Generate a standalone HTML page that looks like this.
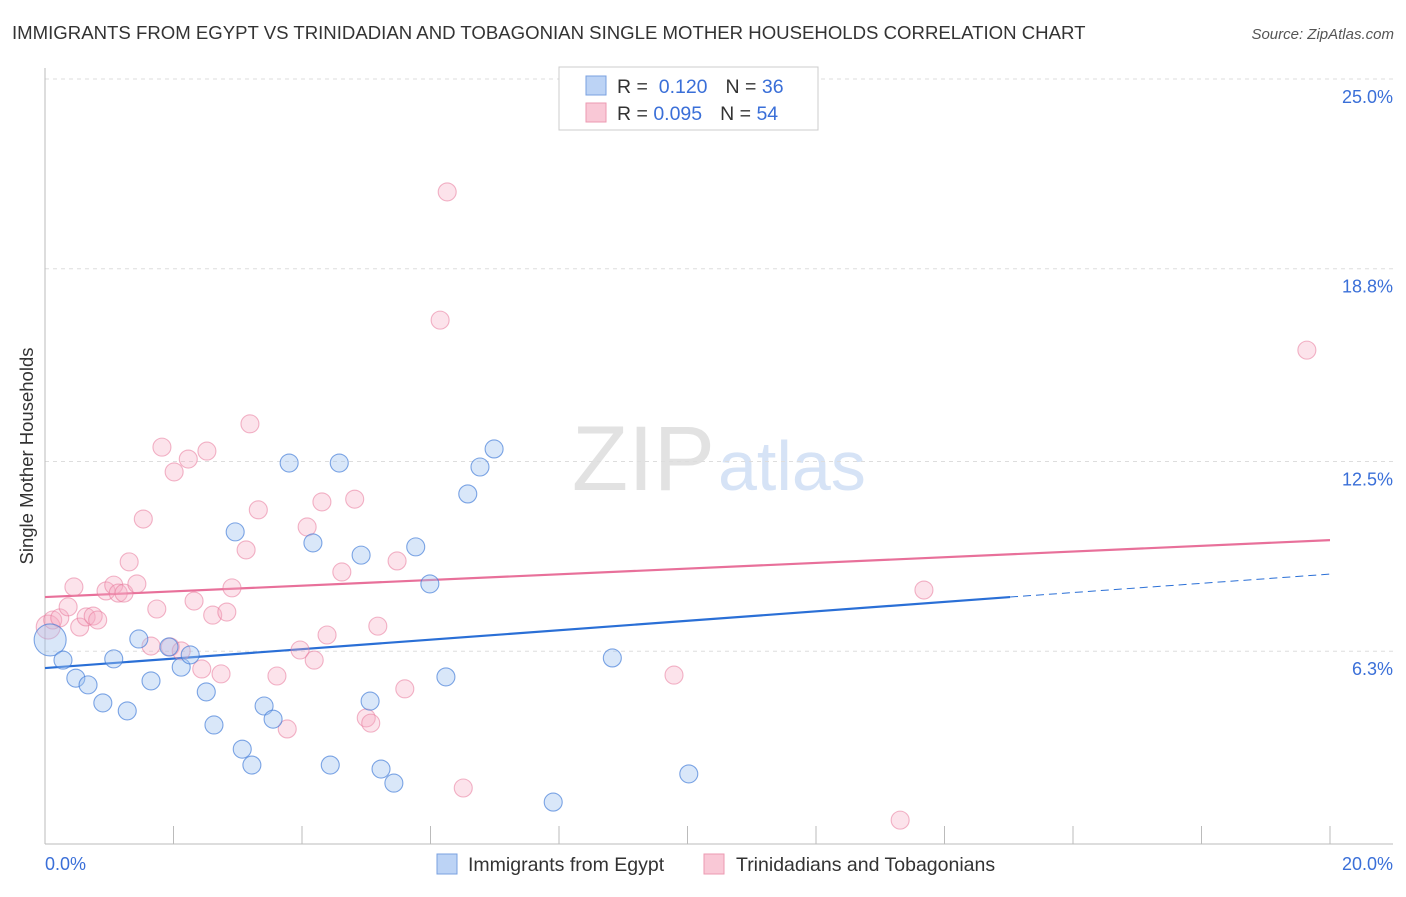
<!DOCTYPE html>
<html><head><meta charset="utf-8"><style>
body{margin:0;background:#fff;font-family:"Liberation Sans",sans-serif;}
svg text{font-family:"Liberation Sans",sans-serif;}
</style></head><body>
<svg id="chart" width="1406" height="892">
<text x="12" y="39" font-size="18.6" fill="#333">IMMIGRANTS FROM EGYPT VS TRINIDADIAN AND TOBAGONIAN SINGLE MOTHER HOUSEHOLDS CORRELATION CHART</text>
<text x="1394" y="39" font-size="15" fill="#555" font-style="italic" text-anchor="end">Source: ZipAtlas.com</text>
<text x="715" y="490" font-size="92" fill="#e2e2e2" text-anchor="end" font-family="Liberation Serif">ZIP</text>
<text x="718" y="490" font-size="70" fill="#d6e3f6">atlas</text>
<text transform="translate(33,456) rotate(-90)" font-size="18.5" fill="#333" text-anchor="middle">Single Mother Households</text>
<g id="grid"></g><g id="axes"></g><g id="lines"></g><g id="pts"></g>
<g>
<rect x="559" y="67" width="259" height="63" fill="#fff" stroke="#ccc"/>
<rect x="586" y="76" width="20" height="19" fill="#bcd3f5" stroke="#7aa0e0"/>
<rect x="586" y="103" width="20" height="19" fill="#f9c8d6" stroke="#ec9ab2"/>
<text x="617" y="93" font-size="19.5" fill="#333">R = <tspan fill="#3a6fd8">&#160;0.120</tspan><tspan fill="#333" dx="18">N = </tspan><tspan fill="#3a6fd8">36</tspan></text>
<text x="617" y="120" font-size="19.5" fill="#333">R = <tspan fill="#3a6fd8">0.095</tspan><tspan fill="#333" dx="18">N = </tspan><tspan fill="#3a6fd8">54</tspan></text>
</g>
<g>
<rect x="437" y="854" width="20" height="20" fill="#bcd3f5" stroke="#7aa0e0"/>
<text x="468" y="871" font-size="19.5" fill="#333">Immigrants from Egypt</text>
<rect x="704" y="854" width="20" height="20" fill="#f9c8d6" stroke="#ec9ab2"/>
<text x="736" y="871" font-size="19.5" fill="#333">Trinidadians and Tobagonians</text>
</g>
</svg>
<script>
const yTicks=[25,18.8,12.5,6.3];
const yTickLabels=["25.0%","18.8%","12.5%","6.3%"];
const xTickCount=10;
const blueX=[0.08,0.28,0.48,0.67,0.90,1.07,1.28,1.46,1.65,1.93,2.12,2.26,2.51,2.63,2.96,3.07,3.22,3.41,3.55,3.80,4.17,4.44,4.58,4.92,5.06,5.23,5.43,5.77,5.99,6.24,6.58,6.77,6.99,7.91,8.83,10.02];
const blueY=[6.67,6.01,5.42,5.20,4.61,6.05,4.35,6.70,5.33,6.44,5.78,6.18,4.97,3.89,10.20,3.10,2.58,4.51,4.08,12.45,9.84,2.58,12.45,9.44,4.67,2.45,1.99,9.71,8.50,5.46,11.44,12.32,12.91,1.37,6.08,2.29];
const pinkX=[0.05,0.12,0.23,0.36,0.45,0.54,0.64,0.75,0.82,0.95,1.07,1.14,1.23,1.31,1.43,1.53,1.65,1.74,1.82,1.95,2.01,2.12,2.23,2.32,2.44,2.52,2.61,2.74,2.83,2.91,3.13,3.19,3.32,3.61,3.77,3.97,4.08,4.19,4.31,4.39,4.62,4.82,5.00,5.07,5.18,5.48,5.60,6.15,6.26,6.51,9.79,13.31,13.68,19.64];
const pinkY=[7.09,7.32,7.39,7.75,8.40,7.09,7.42,7.45,7.32,8.27,8.46,8.20,8.20,9.22,8.50,10.62,6.47,7.68,12.97,6.44,12.16,6.31,12.58,7.94,5.72,12.84,7.48,5.56,7.58,8.37,9.61,13.73,10.92,5.49,3.76,6.34,10.36,6.01,11.18,6.83,8.89,11.27,4.12,3.95,7.12,9.25,5.07,17.12,21.31,1.83,5.52,0.78,8.30,16.14];
const blueTrend=[5.75,8.07,8.82]; // at x=0, 15.02, 20
const pinkTrend=[8.07,9.93];
const sx=v=>45+v*64.25, sy=v=>844-v*30.6;
const NS="http://www.w3.org/2000/svg";
function mk(t,a,p){const e=document.createElementNS(NS,t);for(const k in a)e.setAttribute(k,a[k]);p.appendChild(e);return e;}
const grid=document.getElementById('grid'),axes=document.getElementById('axes'),lines=document.getElementById('lines'),pts=document.getElementById('pts');
yTicks.forEach((t,i)=>{
 const l=mk('line',{x1:45,x2:1393,y1:sy(t),y2:sy(t),stroke:'#ddd','stroke-dasharray':'4,4'},grid);
 
 
 const tx=mk('text',{x:1393,y:sy(t)+24,'font-size':18,fill:'#3a6fd8','text-anchor':'end'},grid);
 tx.textContent=yTickLabels[i];
 
 
});
const yl=mk('line',{x1:45,x2:45,y1:68,y2:844,stroke:'#bbb'},axes);


const xl=mk('line',{x1:45,x2:1393,y1:844,y2:844,stroke:'#bbb'},axes);


for(let i=0;i<=xTickCount;i++){const x=sx(i*2);const t=mk('line',{x1:x,x2:x,y1:826,y2:844,stroke:'#bbb'},axes);
 
 }
const x0=mk('text',{x:45,y:870,'font-size':18,fill:'#3a6fd8'},axes);x0.textContent='0.0%';


const x1=mk('text',{x:1393,y:870,'font-size':18,fill:'#3a6fd8','text-anchor':'end'},axes);x1.textContent='20.0%';


function dot(x,y,fill,stroke,r,name){const c=mk('circle',{cx:sx(x),cy:sy(y),r:r,fill:fill,stroke:stroke,'stroke-width':1.1},pts);
 
 }
pinkX.forEach((x,i)=>dot(x,pinkY[i],'rgba(246,170,195,0.33)','rgba(232,120,155,0.55)',i==0?12:9,'point-trinidad'));
blueX.forEach((x,i)=>dot(x,blueY[i],'rgba(160,195,240,0.4)','rgba(60,120,215,0.65)',i==0?16:9,'point-egypt'));
const pl=mk('line',{x1:sx(0),y1:sy(pinkTrend[0]),x2:sx(20),y2:sy(pinkTrend[1]),stroke:'#e8709a','stroke-width':2.2},lines);


const bl=mk('line',{x1:sx(0),y1:sy(blueTrend[0]),x2:sx(15.02),y2:sy(blueTrend[1]),stroke:'#2a6fd6','stroke-width':2.2},lines);


const bd=mk('line',{x1:sx(15.02),y1:sy(blueTrend[1]),x2:sx(20),y2:sy(blueTrend[2]),stroke:'#2a6fd6','stroke-width':1,'stroke-dasharray':'8,5'},lines);


</script>
</body></html>
